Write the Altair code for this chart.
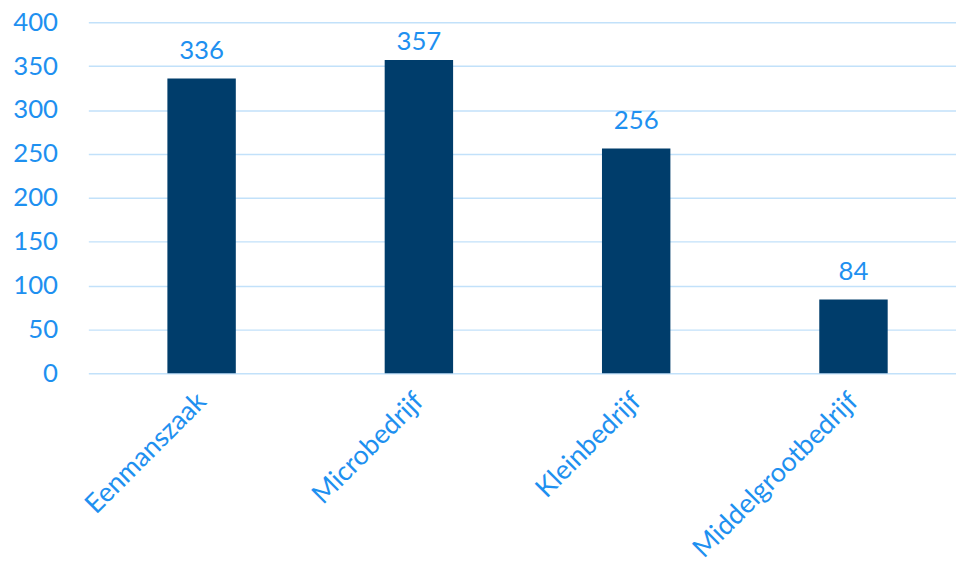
import altair as alt
import pandas as pd
import json

categories = ["Eenmanszaak", "Microbedrijf", "Kleinbedrijf", "Middelgrootbedrijf"]
values = [336, 357, 256, 84]
y_ticks = [0, 50, 100, 150, 200, 250, 300, 350, 400]

df = pd.DataFrame({"idx": list(range(len(categories))), "cat": categories, "val": values})

BLUE = "#1E90F0"
NAVY = "#003D6B"
FONT = "Lato"

x = alt.X(
    "idx:Q",
    scale=alt.Scale(domain=[-0.4985, 3.449], nice=False, zero=False),
    axis=alt.Axis(
        title=None, values=list(range(len(categories))),
        labelExpr=json.dumps(categories) + "[datum.value]",
        labelAngle=-45, labelAlign="right", labelBaseline="middle",
        labelPadding=24, labelFontSize=27, labelColor=BLUE, labelFont=FONT,
        labelLimit=0, labelOverlap=False, labelFlush=False, labelBound=False,
        ticks=False, domain=False, grid=False,
    ),
)
y = alt.Y(
    "val:Q",
    scale=alt.Scale(domain=[0, 400], nice=False),
    axis=alt.Axis(
        title=None, values=y_ticks, labelFontSize=26, labelColor=BLUE, labelFont=FONT,
        labelPadding=31, ticks=False, domain=False, grid=True,
        gridColor="#C2E1FA", gridWidth=1.5,
    ),
)

base = alt.Chart(df).encode(x=x)
bars = base.mark_bar(color=NAVY, width=69).encode(y=y)
# labels sit above the bar, kept inside the plot area near the top (as in the source)
text = base.transform_calculate(
    lab_y="min(datum.val, 346)"
).mark_text(
    dy=-20, baseline="alphabetic", fontSize=26, color=BLUE, font=FONT
).encode(y=alt.Y("lab_y:Q"), text="val:Q")

chart = (bars + text).properties(
    width=875, height=354,
    autosize=alt.AutoSizeParams(type="none"),
    padding={"left": 81, "top": 12, "right": 0, "bottom": 190},
).configure_view(stroke=None)

chart.save("out.html", embed_options={"renderer": "svg", "actions": False})
